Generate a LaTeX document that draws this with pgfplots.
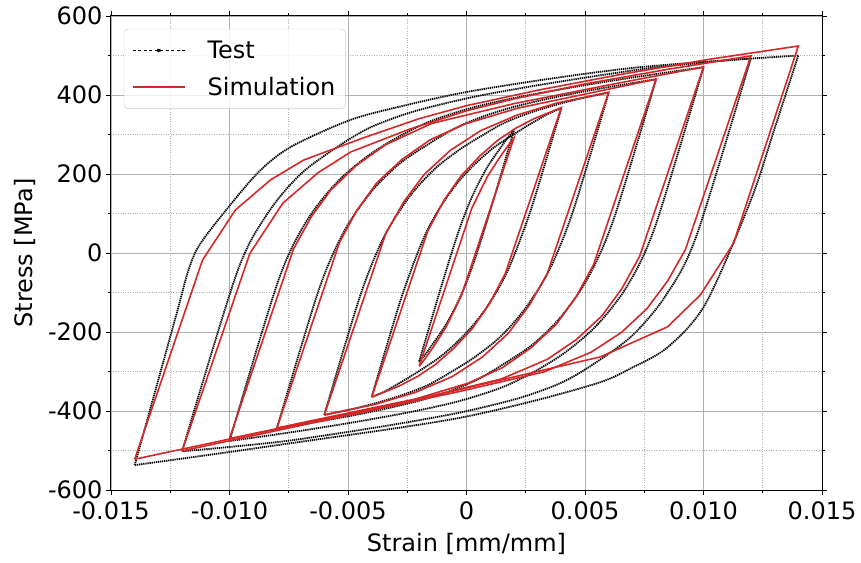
\documentclass[border=0pt]{standalone}
\usepackage{fontspec}
\setmainfont{DejaVu Sans}
\usepackage{pgfplots}
\pgfplotsset{compat=1.18}
\definecolor{simred}{HTML}{D62728}
\definecolor{gridgray}{HTML}{B0B0B0}

\begin{document}
\begin{tikzpicture}[font=\fontsize{24bp}{29bp}\selectfont]
\path[use as bounding box] (-111bp,-73bp) rectangle (750bp,490bp);
\begin{axis}[
  width=711bp, height=474bp, scale only axis,
  xmin=-0.015, xmax=0.015, ymin=-600, ymax=600,
  xtick={-0.015,-0.01,-0.005,0,0.005,0.01,0.015},
  xticklabels={-0.015,-0.010,-0.005,0,0.005,0.010,0.015},
  ytick={-600,-400,-200,0,200,400,600},
  yticklabels={-600,-400,-200,0,200,400,600},
  minor xtick={-0.0125,-0.0075,-0.0025,0.0025,0.0075,0.0125},
  minor ytick={-500,-300,-100,100,300,500},
  grid=both,
  major grid style={draw=gridgray, line width=0.9bp},
  minor grid style={draw=gridgray, dotted, line width=0.9bp},
  tick align=outside,
  major tick length=5bp, minor tick length=3bp,
  every tick/.style={black, line width=0.9bp},
  axis line style={line width=1bp},
  scaled x ticks=false,
  xticklabel style={yshift=-3bp},
  xlabel={Strain [mm/mm]}, ylabel={Stress [MPa]},
  xlabel style={yshift=-7bp}, ylabel style={yshift=6bp},
  legend style={at={(0.018,0.973)}, anchor=north west, draw=black!20,
    rounded corners=4bp, fill=white, fill opacity=0.8, text opacity=1,
    inner xsep=8bp, inner ysep=10bp, row sep=13bp,
    /tikz/every odd column/.append style={column sep=20bp}},
  legend cell align=left,
  legend image code/.code={\draw[#1] (0bp,0bp) -- (52bp,0bp);},
  test/.style={black, line width=1.8bp, dash pattern=on 1.3bp off 0.8bp, smooth, tension=0.5},
  sim/.style={simred, line width=1.6bp},
]
% ---- test, each loop as loading and unloading branch
\addplot[test, legend image code/.code={\draw[black, line width=0.8bp, dash pattern=on 3bp off 2.5bp] (0bp,0bp) -- (52bp,0bp); \fill[black] (26bp,0bp) circle (1.3bp);}] coordinates {(-0.002,-275) (-0.001265,-125) (-0.000759,-25) (-0.000330,55) (0.000106,125) (0.000496,175) (0.000854,215) (0.001185,245) (0.001479,270) (0.001714,290) (0.002,310)};
\addlegendentry{Test}
\addplot[test, forget plot] coordinates {(0.002,310) (0.001265,160) (0.000759,60) (0.000330,-20) (-0.000106,-90) (-0.000496,-140) (-0.000854,-180) (-0.001185,-210) (-0.001479,-235) (-0.001714,-255) (-0.002,-275)};
\addplot[test, forget plot] coordinates {(-0.004,-364) (-0.002752,-114) (-0.001819,36) (-0.001106,116) (-0.000401,176) (0.000368,226) (0.001134,266) (0.001875,296) (0.00254,321) (0.003107,341) (0.003569,356) (0.004,366)};
\addplot[test, forget plot] coordinates {(0.004,366) (0.002752,116) (0.001819,-34) (0.001106,-114) (0.000401,-174) (-0.000368,-224) (-0.001134,-264) (-0.001875,-294) (-0.00254,-319) (-0.003107,-339) (-0.003569,-354) (-0.004,-364)};
\addplot[test, forget plot] coordinates {(-0.006,-410) (-0.004496,-110) (-0.003488,40) (-0.002435,140) (-0.001392,210) (-0.000336,260) (0.000727,300) (0.001614,330) (0.002677,355) (0.003764,375) (0.004736,390) (0.006,406)};
\addplot[test, forget plot] coordinates {(0.006,406) (0.004496,106) (0.003488,-44) (0.002435,-144) (0.001392,-214) (0.000336,-264) (-0.000727,-304) (-0.001614,-334) (-0.002677,-359) (-0.003764,-379) (-0.004736,-394) (-0.006,-410)};
\addplot[test, forget plot] coordinates {(-0.008,-444) (-0.006236,-94) (-0.005151,56) (-0.004007,156) (-0.002828,226) (-0.001597,276) (-0.000471,316) (0.000718,346) (0.002065,371) (0.00348,391) (0.004696,406) (0.006087,421) (0.008,440)};
\addplot[test, forget plot] coordinates {(0.008,440) (0.006236,90) (0.005151,-60) (0.004007,-160) (0.002828,-230) (0.001597,-280) (0.000471,-320) (-0.000718,-350) (-0.002065,-375) (-0.00348,-395) (-0.004696,-410) (-0.006087,-425) (-0.008,-444)};
\addplot[test, forget plot] coordinates {(-0.010,-476) (-0.007976,-76) (-0.006817,74) (-0.005546,174) (-0.004202,244) (-0.002874,294) (-0.001506,334) (0.000313,369) (0.002152,394) (0.003943,414) (0.005407,429) (0.006978,444) (0.008681,459) (0.010,470)};
\addplot[test, forget plot] coordinates {(0.010,470) (0.007976,70) (0.006817,-80) (0.005546,-180) (0.004202,-250) (0.002874,-300) (0.001506,-340) (-0.000313,-375) (-0.002152,-400) (-0.003943,-420) (-0.005407,-435) (-0.006978,-450) (-0.008681,-465) (-0.010,-476)};
\addplot[test, forget plot] coordinates {(-0.012,-502) (-0.0097,-52) (-0.008416,98) (-0.00703,198) (-0.005464,268) (-0.004052,318) (-0.002238,358) (0.000129,393) (0.002352,418) (0.004375,438) (0.005995,453) (0.007746,468) (0.010154,483) (0.012,493)};
\addplot[test, forget plot] coordinates {(0.012,493) (0.0097,43) (0.008416,-107) (0.00703,-207) (0.005464,-277) (0.004052,-327) (0.002238,-367) (-0.000129,-402) (-0.002352,-427) (-0.004375,-447) (-0.005995,-462) (-0.007746,-477) (-0.010154,-492) (-0.012,-502)};
\addplot[test, forget plot] coordinates {(-0.014,-537) (-0.0128,-277) (-0.01217,-140) (-0.01173,-43) (-0.0113,17) (-0.01038,91) (-0.00882,202) (-0.00743,268) (-0.00489,337) (-0.0025,375) (0.00004,408) (0.0035,441) (0.00692,468) (0.0105,486) (0.014,500)};
\addplot[test, forget plot] coordinates {(0.014,500) (0.013,315) (0.012,134) (0.0101,-127) (0.0085,-238) (0.0069,-293) (0.00565,-327) (0.003,-372) (0.0,-414) (-0.0028,-442) (-0.007,-478) (-0.0105,-508) (-0.014,-537)};
% ---- simulation
\addplot[sim] coordinates {(-0.002,-287) (0.000222,113) (0.000875,193) (0.001412,243) (0.001767,273) (0.002,291) (-0.000222,-109) (-0.000875,-189) (-0.001412,-239) (-0.001767,-269) (-0.002,-287)};
\addlegendentry{Simulation}
\addplot[sim, forget plot] coordinates {(-0.004,-365) (-0.001638,55) (-0.000934,135) (-0.000233,195) (0.00055,245) (0.001309,285) (0.002052,315) (0.002847,340) (0.004,368) (0.001638,-52) (0.000934,-132) (0.000233,-192) (-0.00055,-242) (-0.001309,-282) (-0.002052,-312) (-0.002847,-337) (-0.004,-365)};
\addplot[sim, forget plot] coordinates {(-0.006,-410) (-0.003402,50) (-0.002643,130) (-0.001767,200) (-0.000679,260) (0.000606,310) (0.002168,350) (0.003845,380) (0.006,407) (0.003402,-53) (0.002643,-133) (0.001767,-203) (0.000679,-263) (-0.000606,-313) (-0.002168,-353) (-0.003845,-383) (-0.006,-410)};
\addplot[sim, forget plot] coordinates {(-0.008,-443) (-0.005358,27) (-0.004634,107) (-0.003795,177) (-0.002721,237) (-0.001522,287) (-0.000046,327) (0.002178,367) (0.005383,407) (0.008,440) (0.005358,-30) (0.004634,-110) (0.003795,-180) (0.002721,-240) (0.001522,-290) (0.000046,-330) (-0.002178,-370) (-0.005383,-410) (-0.008,-443)};
\addplot[sim, forget plot] coordinates {(-0.010,-470) (-0.007301,10) (-0.006567,90) (-0.005718,160) (-0.00464,222) (-0.003416,274) (-0.00147,328) (0.001991,378) (0.005967,425) (0.010,471) (0.007301,-9) (0.006567,-89) (0.005718,-159) (0.00464,-219) (0.003416,-269) (0.00147,-319) (-0.001991,-369) (-0.005967,-419) (-0.010,-470)};
\addplot[sim, forget plot] coordinates {(-0.012,-501) (-0.00914,-1) (-0.00775,126) (-0.00627,203) (-0.00488,256) (-0.00247,312) (0,360) (0.002,390) (0.005,428) (0.0085,465) (0.012,499) (0.009239,9) (0.008484,-71) (0.007613,-141) (0.006539,-201) (0.005264,-251) (0.00327,-301) (-0.000329,-351) (-0.004221,-401) (-0.008114,-451) (-0.012,-501)};
\addplot[sim, forget plot] coordinates {(-0.014,-522) (-0.01114,-18) (-0.00975,109) (-0.00827,185) (-0.00688,235) (-0.00447,289) (-0.002,340) (0,373) (0.003,412) (0.0065,452) (0.0102,490) (0.014,524) (0.01127,25) (0.00987,-106) (0.00848,-187) (0.00565,-263) (-0.00247,-376) (-0.00842,-451) (-0.014,-522)};
\end{axis}
\end{tikzpicture}
\end{document}
